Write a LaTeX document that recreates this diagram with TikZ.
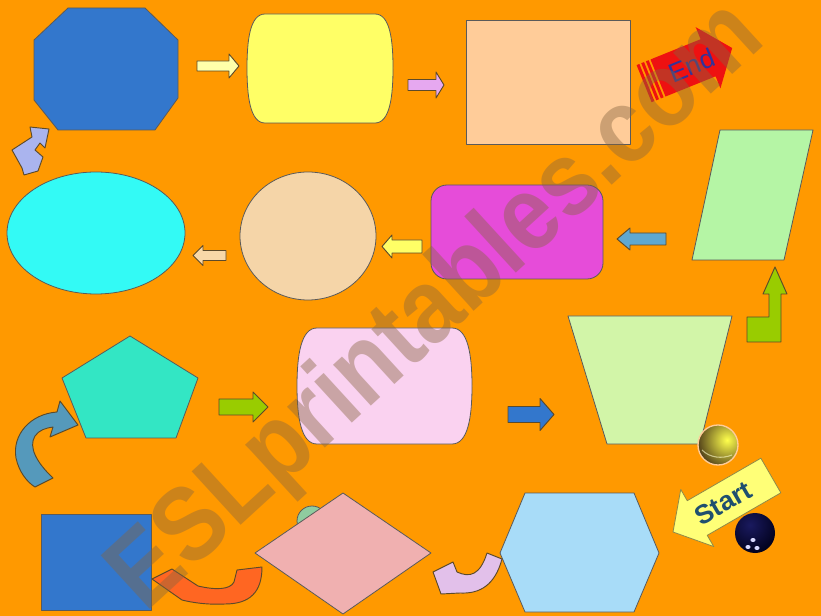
\documentclass[tikz,border=0pt]{standalone}
\usepackage{fontspec}
\setmainfont{Liberation Sans}
\definecolor{bg}{HTML}{FF9900}
\definecolor{shapeline}{HTML}{5A5A5A}
\definecolor{arrowline}{HTML}{5C4A2A}
\definecolor{blueshape}{HTML}{3377CC}
\definecolor{yellowshape}{HTML}{FFFF66}
\definecolor{peachrect}{HTML}{FFCC99}
\definecolor{parallel}{HTML}{B5F5A5}
\definecolor{magenta}{HTML}{E64CD9}
\definecolor{peachcirc}{HTML}{F5D5A8}
\definecolor{cyanell}{HTML}{33FAF5}
\definecolor{pentag}{HTML}{33E6C4}
\definecolor{pinkcan}{HTML}{FAD2F0}
\definecolor{trapez}{HTML}{D2F5A8}
\definecolor{diamondc}{HTML}{F0B0B0}
\definecolor{hexag}{HTML}{A8DCF8}
\definecolor{cream}{HTML}{FFFFAA}
\definecolor{lavarrow}{HTML}{E6A8F0}
\definecolor{ltblue}{HTML}{5FA8D0}
\definecolor{peacharrow}{HTML}{F8D8A8}
\definecolor{lime}{HTML}{99CC00}
\definecolor{zigzag}{HTML}{AAB4EE}
\definecolor{steel}{HTML}{5599BB}
\definecolor{orangearrow}{HTML}{FF6622}
\definecolor{lilac}{HTML}{E2C0EA}
\definecolor{endred}{HTML}{EE1111}
\definecolor{endtext}{HTML}{333399}
\definecolor{startyellow}{HTML}{FFFF77}
\definecolor{starttext}{HTML}{1F4F6F}
\definecolor{wm}{HTML}{86653F}
\definecolor{greenbit}{HTML}{8FCC9F}
\newcommand\blkarrow[7]{%
  \draw[arr, fill=#1] (#2,#5-#6) -- (#3,#5-#6) -- (#3,#5-#7) -- (#4,#5)
     -- (#3,#5+#7) -- (#3,#5+#6) -- (#2,#5+#6) -- cycle;}
\begin{document}
\begin{tikzpicture}[x=0.75pt,y=-0.75pt,
  shp/.style={draw=shapeline, line width=0.6pt, line join=round},
  arr/.style={draw=arrowline, line width=0.7pt, line join=round}]
\useasboundingbox (0,0) rectangle (821,616);
\fill[bg] (0,0) rectangle (821,616);

% ---- row 1
\draw[shp, fill=blueshape] (68,8) -- (145,8) -- (178,40) -- (178,98) -- (155,130)
   -- (58,130) -- (34,100) -- (34,40) -- cycle;
\draw[shp, fill=yellowshape] (265,14) -- (375,14) .. controls (390,14) and (393,40) .. (393,68)
   .. controls (393,96) and (390,123) .. (375,123) -- (265,123)
   .. controls (250,123) and (247,96) .. (247,68) .. controls (247,40) and (250,14) .. (265,14) -- cycle;
\draw[shp, fill=peachrect] (466,20) rectangle (630,144);
\blkarrow{cream}{197}{229}{239}{66}{5}{12}
\blkarrow{lavarrow}{408}{436}{444}{85}{5.5}{13}

% End arrow
\begin{scope}[shift={(658,78)}, rotate=22]
  \fill[endred] (0,-20) -- (54,-20) -- (54,-33) -- (80,0) -- (54,33) -- (54,20) -- (0,20) -- cycle;
  \fill[endred] (-5,-20) rectangle (-2,20);
  \fill[endred] (-10,-20) rectangle (-7,20);
  \fill[endred] (-15,-20) rectangle (-12,20);
  \node[rotate=22, text=endtext, font=\fontsize{20}{20}\selectfont] (endlabel) at (36,1) {End};
\end{scope}

% ---- row 2
\draw[shp, fill=parallel] (720,130) -- (813,130) -- (784,260) -- (692,260) -- cycle;
\draw[shp, fill=magenta, rounded corners=12pt] (431,185) rectangle (603,279);
\draw[shp, fill=peachcirc] (308,236) ellipse [x radius=68, y radius=64];
\draw[shp, fill=cyanell] (96,233) ellipse [x radius=89, y radius=61];
\blkarrow{ltblue}{666}{630}{617}{239}{6}{11}
\blkarrow{yellowshape}{422}{392}{382}{246.5}{6.5}{11.5}
\blkarrow{peacharrow}{226}{203}{193}{255.5}{5}{10}
% zigzag arrow
\draw[arr, fill=zigzag] (30,127) -- (49,129) -- (45,148) -- (40,143) -- (35,150) -- (43,157)
   -- (38,171) -- (24,175) -- (22,168) -- (12,150) -- (32,137) -- cycle;
% lime bent arrow
\draw[arr, fill=lime] (775,267) -- (787,294) -- (781,294) -- (781,342) -- (747,342)
   -- (747,317) -- (769,317) -- (769,294) -- (763,294) -- cycle;

% ---- row 3
\draw[shp, fill=pentag] (130,336) -- (198,378) -- (176,438) -- (86,438) -- (62,378) -- cycle;
\draw[shp, fill=pinkcan] (317,328) -- (452,328) .. controls (468,328) and (472,355) .. (472,386)
   .. controls (472,417) and (468,444) .. (452,444) -- (317,444)
   .. controls (301,444) and (297,417) .. (297,386) .. controls (297,355) and (301,328) .. (317,328) -- cycle;
\draw[shp, fill=trapez] (568,316) -- (732,316) -- (700,444) -- (607,444) -- cycle;
\blkarrow{lime}{219}{253}{268}{407}{8}{15}
\blkarrow{blueshape}{508}{540}{554}{414.5}{8}{16}
% steel curved arrow
\draw[arr, fill=steel] (78,425) -- (60,401) -- (57,412)
   .. controls (30,414) and (12,435) .. (16,458) .. controls (19,472) and (27,482) .. (35,487)
   -- (53,478) .. controls (37,463) and (28,447) .. (35,436) .. controls (39,430) and (46,428) .. (53,427)
   -- (50,437) -- cycle;

% balls
\begin{scope}
  \clip (718,445) circle (20);
  \shade[inner color=yellow!70!white, outer color=black!70!brown] (727,440) circle (34);
  \draw[white!80!yellow, line width=0.8pt, opacity=.6] (702,450) .. controls (710,458) and (722,459) .. (732,455);
\end{scope}
\draw[draw=peachrect, line width=1pt] (718,445) circle (20);
\begin{scope}
  \clip (755,533) circle (20);
  \shade[inner color=blue!30!black!90!white, outer color=black!90!blue] (750,525) circle (30);
\end{scope}
\fill[white!85!blue] (753,540) ellipse [x radius=2.6, y radius=2];
\fill[white!85!blue] (748,547) ellipse [x radius=2.6, y radius=2];
\fill[white!85!blue] (757,548) ellipse [x radius=2.6, y radius=2];

% Start arrow
\begin{scope}[shift={(673,532)}, rotate=30]
  \draw[draw=black!50!yellow, line width=0.6pt, fill=startyellow, line join=round]
     (0,0) -- (28,-33) -- (28,-20) -- (113,-20) -- (113,20) -- (28,20) -- (28,33) -- cycle;
  \node[rotate=30, text=starttext, font=\fontsize{20}{20}\selectfont\bfseries] (startlabel) at (58,0) {Start};
\end{scope}

% ---- row 4
\draw[shp, fill=greenbit] (312,521) circle (15);
\draw[shp, fill=blueshape] (41,514) rectangle (151,610);
\draw[shp, fill=diamondc] (343,493) -- (431,553) -- (343,614) -- (255,553) -- cycle;
\draw[shp, fill=hexag] (525,493) -- (634,493) -- (659,553) -- (634,612) -- (525,612) -- (500,553) -- cycle;
% orange curved arrow
\draw[arr, fill=orangearrow] (152,579) -- (172,569) -- (198,586)
   .. controls (215,590) and (230,590) .. (234,582) -- (237,570) -- (262,567)
   .. controls (262,592) and (250,604) .. (225,604) .. controls (205,605) and (190,602) .. (182,600) -- cycle;
% lilac curved arrow
\draw[arr, fill=lilac] (433,572) -- (453,562) -- (457,572)
   .. controls (470,578) and (480,575) .. (487,553) -- (502,559)
   .. controls (495,585) and (480,594) .. (460,593) -- (441,594) -- cycle;

% watermark
\node[rotate=42.5, text=wm, text opacity=0.42, font=\fontsize{76}{76}\selectfont\bfseries] (watermark) at (438,308) {\scalebox{0.92}[1.04]{ESLprintables.com}};
\end{tikzpicture}
\end{document}
